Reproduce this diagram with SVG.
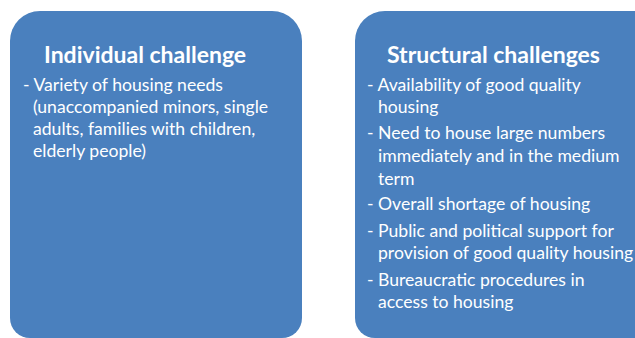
<svg xmlns="http://www.w3.org/2000/svg" width="635" height="338" viewBox="0 0 635 338">
<style>
.box{fill:#4a80be;}
.t{font-family:Lato,"Liberation Sans",sans-serif;fill:#ffffff;}
.h{font-size:23px;font-weight:bold;}
.b{font-size:17.6px;}
</style>
<rect width="635" height="338" fill="#ffffff"/>
<g id="individual">
<path class="box" d="M10,41 A30,30 0 0 1 40,11 L272,11 A30,30 0 0 1 302,41 L302,318 A20,20 0 0 1 282,338 L30,338 A20,20 0 0 1 10,318 Z"/>
<text class="t h" x="44" y="63">Individual challenge</text>
<text class="t b" x="23" y="91">- Variety of housing needs</text>
<text class="t b" x="33" y="113">(unaccompanied minors, single</text>
<text class="t b" x="33" y="135">adults, families with children,</text>
<text class="t b" x="33" y="157">elderly people)</text>
</g>
<g id="structural">
<path class="box" d="M355,41 A30,30 0 0 1 385,11 L640,11 L640,338 L375,338 A20,20 0 0 1 355,318 Z"/>
<text class="t h" x="387" y="63">Structural challenges</text>
<text class="t b" x="367" y="91">- Availability of good quality</text>
<text class="t b" x="378" y="113">housing</text>
<text class="t b" x="367" y="139">- Need to house large numbers</text>
<text class="t b" x="378" y="162">immediately and in the medium</text>
<text class="t b" x="378" y="185">term</text>
<text class="t b" x="367" y="210">- Overall shortage of housing</text>
<text class="t b" x="367" y="237">- Public and political support for</text>
<text class="t b" x="378" y="259">provision of good quality housing</text>
<text class="t b" x="367" y="286">- Bureaucratic procedures in</text>
<text class="t b" x="378" y="308">access to housing</text>
</g>
<g id="connectors"></g>
</svg>
